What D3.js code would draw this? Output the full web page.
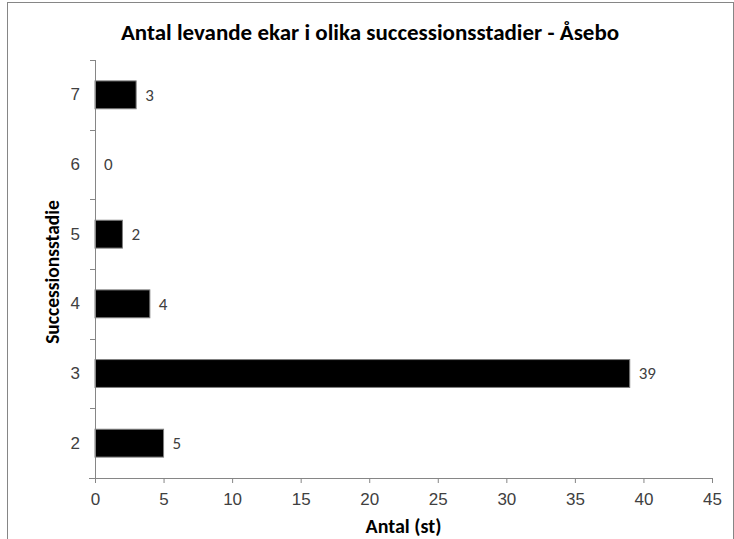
<!DOCTYPE html>
<html>
<head>
<meta charset="utf-8">
<script src="https://cdn.jsdelivr.net/npm/d3@7"></script>
<style>
  body { margin: 0; background: #fff; }
  svg { display: block; font-family: Carlito, "Open Sans", sans-serif; }
</style>
</head>
<body>
<div id="chart"></div>
<script>
// chart data
const stages = ["2", "3", "4", "5", "6", "7"]
const counts = [5, 39, 4, 2, 0, 3]
const xTicks = [0, 5, 10, 15, 20, 25, 30, 35, 40, 45]

const W = 734, H = 539
const margin = { top: 60, right: 22, bottom: 61, left: 95 }
const width = W - margin.left - margin.right
const height = H - margin.top - margin.bottom

const data = stages.map((s, i) => ({ stage: s, total: counts[i] }))

const root = d3.select("#chart").append("svg")
    .attr("width", W)
    .attr("height", H)

// chart area border
root.append("rect")
    .attr("x", 7.5).attr("y", 2.5)
    .attr("width", 726).attr("height", 560)
    .style("fill", "none")
    .style("stroke", "#868686")
    .style("stroke-width", 1)

const svg = root.append("g")
    .attr("transform", "translate(" + margin.left + "," + margin.top + ")")

const x = d3.scaleLinear()
    .domain([0, 45])
    .range([0, width])

const y = d3.scaleBand()
    .domain(stages)
    .range([height, 0])
    .paddingInner(0.6)
    .paddingOuter(0.3)

// bars
svg.selectAll(".bar")
    .data(data)
    .enter()
    .append("rect")
    .attr("class", "bar")
    .attr("x", 0)
    .attr("y", d => y(d.stage))
    .attr("width", d => x(d.total))
    .attr("height", y.bandwidth())
    .style("fill", d => d.total > 0 ? "#000" : "none")
    .style("stroke", d => d.total > 0 ? "#7f7f7f" : "none")
    .style("stroke-width", 1)

// x axis
const xAxis = d3.axisBottom(x)
    .tickValues(xTicks)
    .tickSize(5)
    .tickPadding(10)

svg.append("g")
    .attr("class", "x-axis")
    .attr("transform", "translate(0," + height + ")")
    .call(xAxis)
    .call(g => g.select(".domain").attr("d", "M-6,0.5H" + width))

// y axis: ticks sit between categories like Excel
const step = height / stages.length
const yAxis = d3.axisLeft(y).tickSize(0).tickPadding(15)
svg.append("g")
    .attr("class", "y-axis")
    .call(yAxis)
    .call(g => g.select(".domain").remove())

svg.append("line")
    .attr("x1", 0.5).attr("x2", 0.5)
    .attr("y1", 0).attr("y2", height + 5)
    .style("stroke", "#868686")

svg.selectAll(".ytick")
    .data(d3.range(stages.length))
    .enter()
    .append("line")
    .attr("class", "ytick")
    .attr("x1", -5).attr("x2", 0)
    .attr("y1", d => Math.round(d * step) + 0.5)
    .attr("y2", d => Math.round(d * step) + 0.5)
    .style("stroke", "#868686")

svg.selectAll(".x-axis line, .x-axis path")
    .style("stroke", "#868686")
svg.selectAll(".x-axis text, .y-axis text")
    .style("font-size", "17px")
    .style("fill", "#404040")

// value labels
svg.selectAll(".label")
    .data(data)
    .enter()
    .append("text")
    .attr("class", "label")
    .text(d => d.total)
    .attr("x", d => x(d.total) + 9)
    .attr("y", d => y(d.stage) + y.bandwidth() / 2)
    .attr("dy", "0.35em")
    .style("font-size", "17px")
    .style("fill", "#404040")

// title
root.append("text")
    .text("Antal levande ekar i olika successionsstadier - Åsebo")
    .attr("x", 370)
    .attr("y", 40)
    .style("text-anchor", "middle")
    .style("font-size", "23px")
    .style("font-weight", "bold")
    .style("fill", "#000")

// axis titles
root.append("text")
    .text("Antal (st)")
    .attr("x", margin.left + width / 2)
    .attr("y", 533)
    .style("text-anchor", "middle")
    .style("font-size", "20px")
    .style("font-weight", "bold")

root.append("text")
    .text("Successionsstadie")
    .attr("transform", "translate(59," + (margin.top + height / 2 + 3) + ") rotate(-90)")
    .style("text-anchor", "middle")
    .style("font-size", "19.5px")
    .style("font-weight", "bold")
</script>
</body>
</html>
